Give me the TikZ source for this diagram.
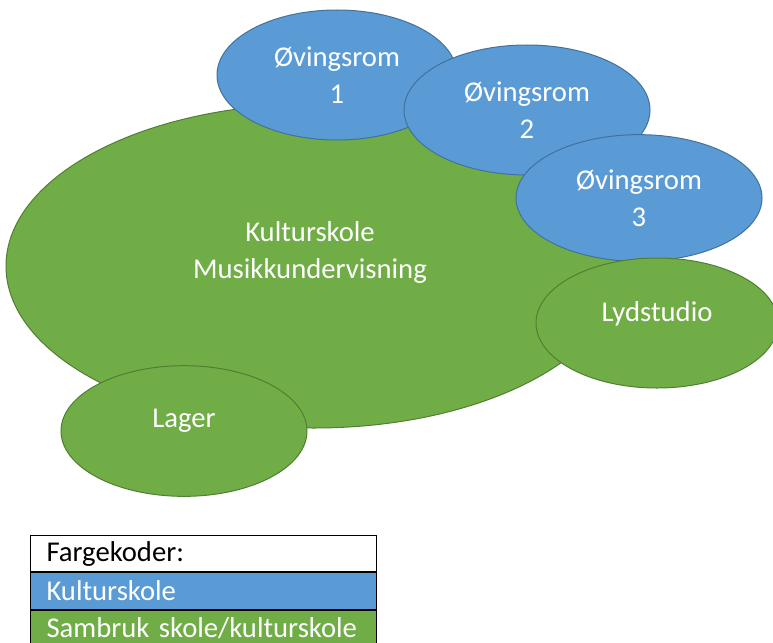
\documentclass[tikz,border=0pt]{standalone}
\usepackage{fontspec}
\setmainfont{Carlito}
\usetikzlibrary{shapes.geometric,positioning}

\definecolor{kblue}{HTML}{5B9BD5}
\definecolor{kblueline}{HTML}{41719C}
\definecolor{sgreen}{HTML}{70AD47}
\definecolor{sgreenline}{HTML}{507E32}

\begin{document}
\begin{tikzpicture}[x=0.75pt, y=-0.75pt, line width=0.75pt,
                    room/.style={ellipse, draw, inner sep=0pt, text=white, align=center,
                                 font=\fontsize{21.5}{28}\selectfont},
                    blue room/.style={room, fill=kblue, draw=kblueline},
                    green room/.style={room, fill=sgreen, draw=sgreenline},
                    room text/.style={text=white, align=center, font=\fontsize{21.5}{28}\selectfont},
                    legend box/.style={rectangle, draw=black, inner xsep=12pt, inner ysep=0pt,
                                       text width=235.5pt, minimum height=27.2pt, align=left,
                                       font=\fontsize{21.5}{26}\selectfont}]
  \useasboundingbox (0,0) rectangle (773,642);

  \node[green room, minimum width=462pt, minimum height=243pt,
        label={[room text, xshift=-3pt, yshift=10pt]center:Kulturskole\\Musikkundervisning}] (kultur) at (314,266) {};
  \node[green room, minimum width=184.5pt, minimum height=98pt,
        label={[room text, yshift=8pt]center:Lager}] (lager) at (184,431) {};
  \node[blue room, minimum width=180pt, minimum height=97.5pt] (ov1) at (337,75) {Øvingsrom\\1};
  \node[blue room, minimum width=184.5pt, minimum height=97.5pt] (ov2) at (527,110) {Øvingsrom\\2};
  \node[blue room, minimum width=184.5pt, minimum height=95pt] (ov3) at (639,198) {Øvingsrom\\3};
  \node[green room, minimum width=181.5pt, minimum height=97.5pt,
        label={[room text, yshift=7pt]center:Lydstudio}] (lyd) at (657,323) {};

  % fargekoder
  \node[legend box, fill=white, anchor=north west] (farge) at (30,535) {Fargekoder:};
  \node[legend box, fill=kblue, text=white, below=0pt of farge] (kskole) {Kulturskole};
  \node[legend box, fill=sgreen, text=white, below=0pt of kskole] (sambruk) {Sambruk skole/kulturskole};
\end{tikzpicture}
\end{document}
